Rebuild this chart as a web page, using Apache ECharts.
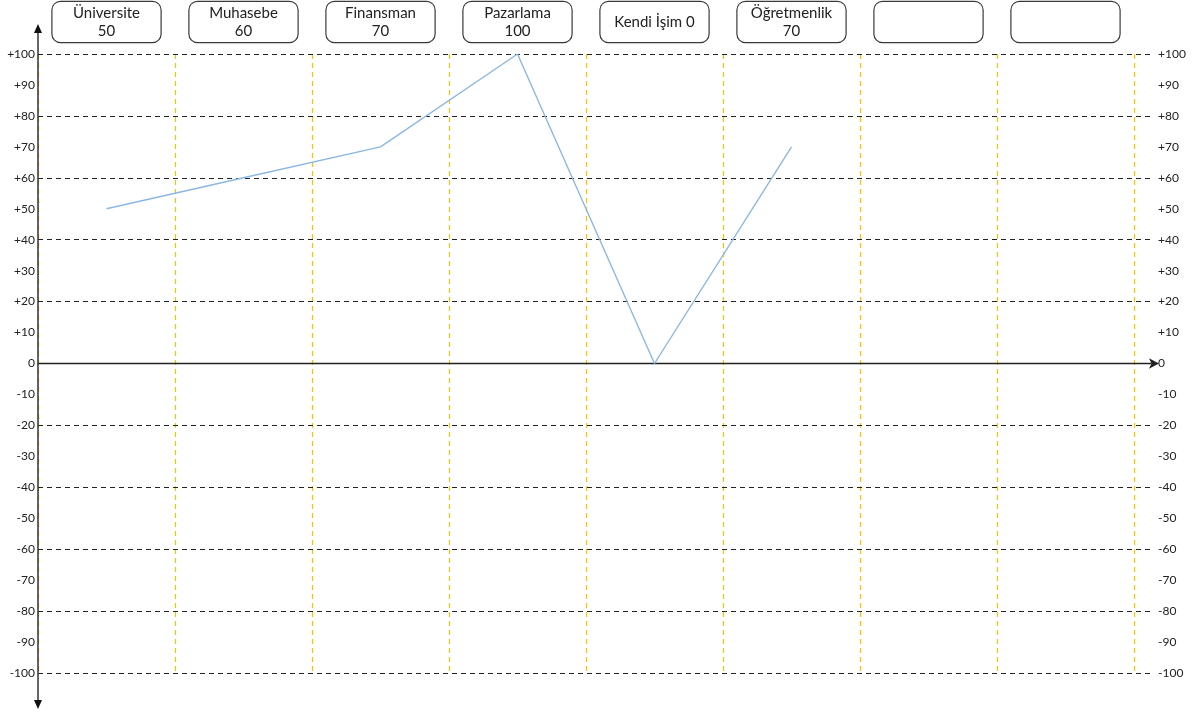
<!DOCTYPE html>
<html>
<head>
<meta charset="utf-8">
<script src="https://cdn.jsdelivr.net/npm/echarts@6/dist/echarts.min.js"></script>
<style>
html,body{margin:0;padding:0;background:#fff;}
#main{width:1200px;height:713px;}
</style>
</head>
<body>
<div id="main"></div>
<script>
// Data
const categories = ['Üniversite', 'Muhasebe', 'Finansman', 'Pazarlama', 'Kendi İşim', 'Öğretmenlik', '', ''];
const scores = [50, 60, 70, 100, 0, 70, null, null];
const gridLevels = [100, 80, 60, 40, 20, -20, -40, -60, -80, -100];
const yMin = -100, yMax = 100, yStep = 10;

const FONT = 'Lato, "Open Sans", sans-serif';
const chart = echarts.init(document.getElementById('main'));

const tickFmt = v => (v > 0 ? '+' + v : String(v));

const option = {
  animation: false,
  backgroundColor: '#ffffff',
  grid: [
    { left: 38, right: 66, top: 54, bottom: 40 },
    { left: 38, right: 49, top: 54, bottom: 40 }
  ],
  xAxis: [
    {
      type: 'category', gridIndex: 0, data: categories, position: 'top',
      boundaryGap: true,
      axisLine: { show: false }, axisTick: { show: false },
      axisLabel: {
        interval: 0, margin: 12,
        formatter: (name, idx) => {
          const v = scores[idx];
          if (v === null || v === undefined) return '{one|\u00a0}';
          if (v === 0) return '{one|' + name + ' ' + v + '}';
          return '{two|' + name + '}\n{two|' + v + '}';
        },
        rich: {
          one: { lineHeight: 36, height: 36, fontSize: 15, color: '#222', fontFamily: FONT },
          two: { lineHeight: 18, height: 18, fontSize: 15, color: '#222', fontFamily: FONT }
        },
        width: 108, padding: [2, 0, 2, 0],
        align: 'center', verticalAlign: 'bottom',
        backgroundColor: '#ffffff', borderColor: '#3a3a3a', borderWidth: 1.2, borderRadius: 8,
        fontSize: 15, color: '#222', fontFamily: FONT
      },
      splitLine: {
        show: true,
        lineStyle: { color: '#FFC000', type: [5, 4], width: 1.2 }
      }
    },
    {
      type: 'value', gridIndex: 1, min: 0, max: 1, interval: 1,
      axisLine: { show: true, onZero: true, symbol: ['none', 'arrow'], symbolSize: [8, 10], symbolOffset: [0, 8],
        lineStyle: { color: '#222', width: 1.3 } },
      axisTick: { show: false }, axisLabel: { show: false },
      splitLine: { show: false }
    }
  ],
  yAxis: [
    { type: 'value', gridIndex: 0, min: yMin, max: yMax, show: false },
    {
      type: 'value', gridIndex: 1, position: 'left', min: yMin, max: yMax, interval: yStep,
      axisLine: { show: false }, axisTick: { show: false }, splitLine: { show: false },
      axisLabel: { margin: 3, formatter: tickFmt, fontSize: 12, color: '#222', fontFamily: FONT }
    },
    {
      type: 'value', gridIndex: 1, position: 'right', min: yMin, max: yMax, interval: yStep,
      axisLine: { show: false }, axisTick: { show: false }, splitLine: { show: false },
      axisLabel: { margin: 7, formatter: tickFmt, fontSize: 12, color: '#222', fontFamily: FONT }
    }
  ],
  series: [
    {
      type: 'line', xAxisIndex: 1, yAxisIndex: 1, data: [], silent: true,
      markLine: {
        silent: true, symbol: ['none', 'none'], label: { show: false },
        lineStyle: { color: '#222', type: [5, 4], width: 1 },
        data: gridLevels.map(v => ({ yAxis: v }))
      }
    },
    {
      type: 'line', xAxisIndex: 0, yAxisIndex: 0, data: scores,
      showSymbol: false, symbol: 'none', connectNulls: false,
      lineStyle: { color: '#8BB8E3', width: 1.4 }, z: 5
    }
  ],
  graphic: [
    { type: 'line', z: 100, shape: { x1: 38, y1: 30, x2: 38, y2: 702 }, style: { stroke: '#333', lineWidth: 1.5 } },
    { type: 'polygon', z: 100, shape: { points: [[38, 24], [34, 33], [42, 33]] }, style: { fill: '#111' } },
    { type: 'polygon', z: 100, shape: { points: [[38, 709], [34, 700], [42, 700]] }, style: { fill: '#111' } }
  ]
};
chart.setOption(option);
</script>
</body>
</html>
